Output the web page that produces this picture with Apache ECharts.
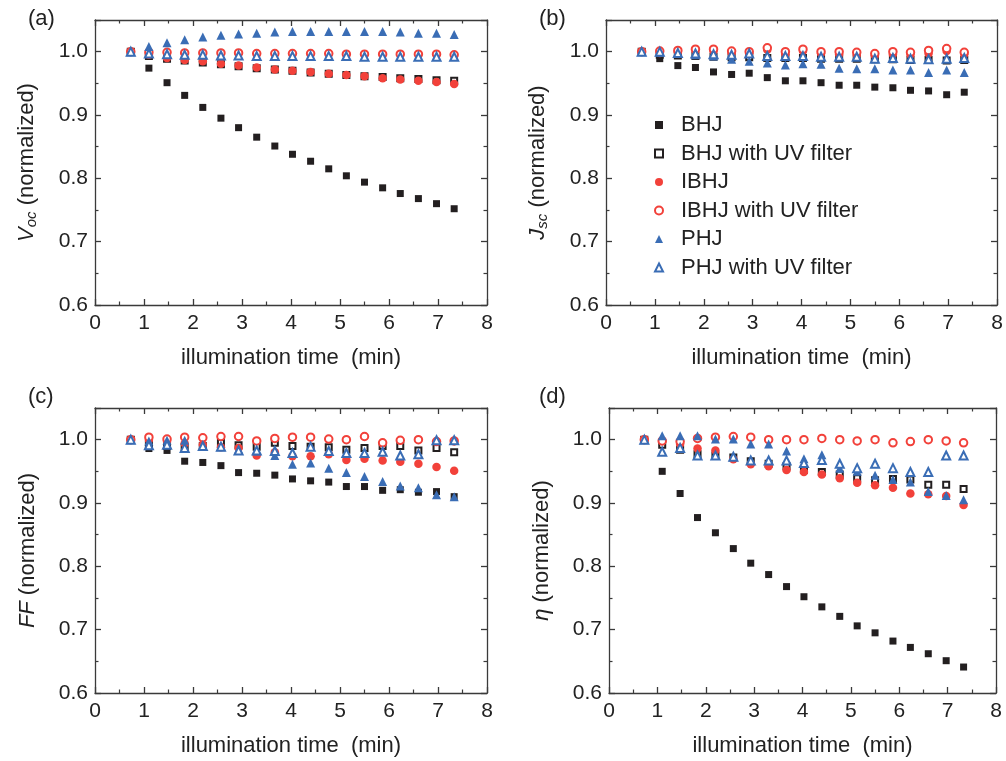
<!DOCTYPE html>
<html>
<head>
<meta charset="utf-8">
<script src="https://cdn.jsdelivr.net/npm/echarts@6/dist/echarts.min.js"></script>
<style>
  html, body { margin: 0; background: #fff; }
  #chart { width: 1006px; height: 761px; }
</style>
</head>
<body>
<div id="chart"></div>
<script>
// illumination time (min), same for every panel
var time = [0.73, 1.10, 1.47, 1.83, 2.20, 2.57, 2.93, 3.30, 3.67, 4.03, 4.40, 4.77, 5.13, 5.50, 5.87, 6.23, 6.60, 6.97, 7.33]
var xTicks = [0, 1, 2, 3, 4, 5, 6, 7, 8]
var yTicks = [0.6, 0.7, 0.8, 0.9, 1.0]
var seriesNames = ['BHJ', 'BHJ with UV filter', 'IBHJ', 'IBHJ with UV filter', 'PHJ', 'PHJ with UV filter']

// (a) Voc
var vocBHJ     = [1.0, 0.974, 0.951, 0.931, 0.912, 0.895, 0.880, 0.865, 0.851, 0.838, 0.827, 0.815, 0.804, 0.794, 0.785, 0.776, 0.768, 0.760, 0.752]
var vocBHJuv   = [1.0, 0.993, 0.989, 0.986, 0.983, 0.980, 0.977, 0.974, 0.972, 0.970, 0.967, 0.965, 0.963, 0.961, 0.960, 0.958, 0.957, 0.955, 0.954]
var vocIBHJ    = [1.0, 0.995, 0.990, 0.987, 0.985, 0.981, 0.978, 0.975, 0.972, 0.970, 0.968, 0.965, 0.963, 0.961, 0.958, 0.956, 0.954, 0.952, 0.949]
var vocIBHJuv  = [1.0, 0.999, 0.999, 0.998, 0.998, 0.998, 0.998, 0.997, 0.997, 0.997, 0.997, 0.997, 0.996, 0.996, 0.996, 0.996, 0.996, 0.996, 0.995]
var vocPHJ     = [1.0, 1.008, 1.014, 1.019, 1.023, 1.026, 1.028, 1.029, 1.031, 1.032, 1.032, 1.032, 1.032, 1.032, 1.032, 1.031, 1.029, 1.029, 1.027]
var vocPHJuv   = [1.0, 0.997, 0.996, 0.995, 0.995, 0.994, 0.994, 0.993, 0.993, 0.993, 0.993, 0.993, 0.993, 0.992, 0.992, 0.992, 0.992, 0.992, 0.992]

// (b) Jsc
var jscBHJ     = [1.0, 0.989, 0.978, 0.975, 0.968, 0.964, 0.966, 0.959, 0.954, 0.954, 0.951, 0.947, 0.947, 0.944, 0.943, 0.939, 0.938, 0.932, 0.936]
var jscBHJuv   = [1.0, 0.995, 0.994, 0.993, 0.992, 0.991, 0.991, 0.990, 0.990, 0.990, 0.989, 0.989, 0.989, 0.988, 0.988, 0.987, 0.987, 0.986, 0.987]
var jscIBHJ    = [1.0, 0.998, 1.000, 1.002, 1.001, 0.998, 0.997, 1.003, 0.996, 1.001, 0.997, 0.996, 0.995, 0.994, 0.996, 0.995, 0.997, 1.001, 0.996]
var jscIBHJuv  = [1.0, 1.001, 1.002, 1.004, 1.004, 1.001, 1.000, 1.006, 1.000, 1.004, 1.000, 1.000, 0.999, 0.997, 1.000, 0.999, 1.002, 1.005, 0.999]
var jscPHJ     = [1.0, 0.999, 0.997, 0.995, 0.993, 0.988, 0.985, 0.982, 0.979, 0.981, 0.980, 0.974, 0.973, 0.973, 0.971, 0.971, 0.967, 0.971, 0.967]
var jscPHJuv   = [1.0, 1.000, 0.998, 0.997, 0.996, 0.995, 0.997, 0.993, 0.993, 0.993, 0.992, 0.992, 0.992, 0.989, 0.990, 0.989, 0.988, 0.989, 0.990]

// (c) FF
var ffBHJ      = [1.0, 0.986, 0.983, 0.966, 0.964, 0.959, 0.948, 0.947, 0.944, 0.938, 0.935, 0.933, 0.926, 0.926, 0.920, 0.921, 0.917, 0.918, 0.910]
var ffBHJuv    = [1.0, 0.992, 0.990, 0.988, 0.990, 0.995, 0.991, 0.989, 0.995, 0.990, 0.989, 0.988, 0.984, 0.987, 0.990, 0.990, 0.983, 0.987, 0.980]
var ffIBHJ     = [1.0, 1.000, 0.998, 0.994, 0.992, 0.988, 0.987, 0.975, 0.980, 0.974, 0.974, 0.977, 0.968, 0.970, 0.967, 0.965, 0.962, 0.957, 0.951]
var ffIBHJuv   = [1.0, 1.004, 1.001, 1.004, 1.003, 1.005, 1.005, 0.998, 1.002, 1.004, 1.004, 1.001, 1.000, 1.005, 0.995, 0.999, 1.000, 0.997, 0.998]
var ffPHJ      = [1.0, 0.998, 0.999, 0.999, 0.991, 0.989, 0.985, 0.982, 0.975, 0.961, 0.963, 0.955, 0.948, 0.942, 0.934, 0.927, 0.924, 0.913, 0.910]
var ffPHJuv    = [1.0, 0.991, 0.992, 0.987, 0.990, 0.989, 0.983, 0.983, 0.982, 0.979, 0.989, 0.982, 0.979, 0.979, 0.981, 0.975, 0.977, 0.999, 0.999]

// (d) efficiency
var effBHJ     = [1.0, 0.950, 0.915, 0.877, 0.853, 0.828, 0.805, 0.787, 0.768, 0.752, 0.736, 0.721, 0.706, 0.695, 0.682, 0.672, 0.662, 0.651, 0.641]
var effBHJuv   = [1.0, 0.992, 0.984, 0.977, 0.975, 0.972, 0.966, 0.962, 0.958, 0.952, 0.949, 0.945, 0.939, 0.936, 0.938, 0.937, 0.929, 0.929, 0.922]
var effIBHJ    = [1.0, 0.998, 0.993, 0.986, 0.983, 0.969, 0.961, 0.958, 0.952, 0.949, 0.945, 0.939, 0.932, 0.928, 0.924, 0.915, 0.914, 0.911, 0.897]
var effIBHJuv  = [1.0, 0.998, 0.997, 1.002, 1.004, 1.005, 1.004, 1.000, 1.000, 1.000, 1.002, 1.000, 0.998, 1.000, 0.995, 0.997, 1.000, 0.998, 0.995]
var effPHJ     = [1.0, 1.006, 1.006, 1.006, 1.001, 1.001, 0.993, 0.993, 0.982, 0.970, 0.976, 0.955, 0.950, 0.944, 0.937, 0.933, 0.918, 0.912, 0.905]
var effPHJuv   = [1.0, 0.981, 0.987, 0.975, 0.975, 0.973, 0.967, 0.967, 0.967, 0.963, 0.968, 0.962, 0.955, 0.962, 0.955, 0.949, 0.949, 0.975, 0.975]

var panels = [
  { tag: '(a)', yName: '{it|V}{sub|oc}{n| (normalized)}', data: [vocBHJ, vocBHJuv, vocIBHJ, vocIBHJuv, vocPHJ, vocPHJuv] },
  { tag: '(b)', yName: '{it|J}{sub|sc}{n| (normalized)}', data: [jscBHJ, jscBHJuv, jscIBHJ, jscIBHJuv, jscPHJ, jscPHJuv] },
  { tag: '(c)', yName: '{it|FF}{n| (normalized)}', data: [ffBHJ, ffBHJuv, ffIBHJ, ffIBHJuv, ffPHJ, ffPHJuv] },
  { tag: '(d)', yName: '{it|η}{n| (normalized)}', data: [effBHJ, effBHJuv, effIBHJ, effIBHJuv, effPHJ, effPHJuv] }
]

var FONT = '"Liberation Sans", Arial, sans-serif'
var black = '#231f20', red = '#f2413a', blue = '#3a6db5'
var marks = [
  { symbol: 'rect', size: 7, color: black },
  { symbol: 'emptyRect', size: 6, color: black },
  { symbol: 'circle', size: 8.5, color: red },
  { symbol: 'emptyCircle', size: 7.5, color: red },
  { symbol: 'triangle', size: 9, color: blue },
  { symbol: 'emptyTriangle', size: 8, color: blue }
]
var boxes = [
  { left: 95, top: 20, width: 392, height: 285 },
  { left: 606, top: 20, width: 391, height: 285 },
  { left: 95, top: 408, width: 392, height: 285 },
  { left: 609, top: 408, width: 387, height: 285 }
]

var axisColor = '#3a3a3a'
function xAxisFor(i, pos) {
  var main = pos === 'bottom'
  return {
    type: 'value', gridIndex: i, position: pos,
    min: xTicks[0], max: xTicks[xTicks.length - 1], interval: 1,
    name: main ? 'illumination time  (min)' : '',
    nameLocation: 'middle', nameGap: 42,
    nameTextStyle: { fontSize: 22, fontFamily: FONT, color: '#222' },
    axisLine: { onZero: false, lineStyle: { color: axisColor, width: 1.3 } },
    axisTick: { inside: true, length: 6, lineStyle: { color: axisColor, width: 1.3 } },
    minorTick: { show: true, splitNumber: 2, length: 3.5, lineStyle: { color: axisColor, width: 1.2 } },
    axisLabel: { show: main, margin: 8, fontSize: 21, fontFamily: FONT, color: '#222' },
    splitLine: { show: false }
  }
}
function yAxisFor(i, pos, name) {
  var main = pos === 'left'
  return {
    type: 'value', gridIndex: i, position: pos,
    min: 0.6, max: 1.05, interval: 0.1,
    name: main ? name : '',
    nameLocation: 'middle', nameGap: 56, nameRotate: 90,
    nameTextStyle: {
      fontSize: 22, fontFamily: FONT, color: '#222',
      rich: {
        it: { fontSize: 22, fontStyle: 'italic', fontFamily: FONT, color: '#222' },
        sub: { fontSize: 15, fontStyle: 'italic', fontFamily: FONT, color: '#222', verticalAlign: 'bottom', padding: [10, 0, 0, 0] },
        n: { fontSize: 22, fontFamily: FONT, color: '#222' }
      }
    },
    axisLine: { onZero: false, lineStyle: { color: axisColor, width: 1.3 } },
    axisTick: { inside: true, length: 6, lineStyle: { color: axisColor, width: 1.3 } },
    minorTick: { show: true, splitNumber: 2, length: 3.5, lineStyle: { color: axisColor, width: 1.2 } },
    axisLabel: {
      show: main, margin: 7, fontSize: 21, fontFamily: FONT, color: '#222',
      formatter: function (v) { return v > 1.001 ? '' : v.toFixed(1) }
    },
    splitLine: { show: false }
  }
}

var grids = [], xAxes = [], yAxes = [], series = [], graphics = []
panels.forEach(function (p, i) {
  grids.push(boxes[i])
  xAxes.push(xAxisFor(i, 'bottom'), xAxisFor(i, 'top'))
  yAxes.push(yAxisFor(i, 'left', p.yName), yAxisFor(i, 'right'))
  p.data.forEach(function (vals, k) {
    var m = marks[k]
    series.push({
      name: seriesNames[k], type: 'scatter',
      xAxisIndex: i * 2, yAxisIndex: i * 2,
      symbol: m.symbol, symbolSize: m.size,
      itemStyle: { color: m.color, borderColor: m.color, borderWidth: m.symbol.indexOf('empty') === 0 ? 1.5 : 0, opacity: 1 },
      emphasis: { disabled: true },
      data: time.map(function (t, j) { return [t, vals[j]] })
    })
  })
  graphics.push({
    type: 'text', left: i % 2 ? 539 : 28, top: i < 2 ? 8 : 386,
    style: { text: p.tag, fontSize: 22, fontFamily: FONT, fill: '#222' }
  })
})

var chart = echarts.init(document.getElementById('chart'))
chart.setOption({
  backgroundColor: '#fff',
  animation: false,
  grid: grids,
  xAxis: xAxes,
  yAxis: yAxes,
  legend: {
    left: 649, top: 109, orient: 'vertical',
    itemWidth: 8, itemHeight: 8, itemGap: 6.5,
    textStyle: { fontSize: 22, fontFamily: FONT, color: '#222', padding: [0, 0, 0, 13] },
    data: seriesNames
  },
  graphic: graphics,
  series: series
})
</script>
</body>
</html>
